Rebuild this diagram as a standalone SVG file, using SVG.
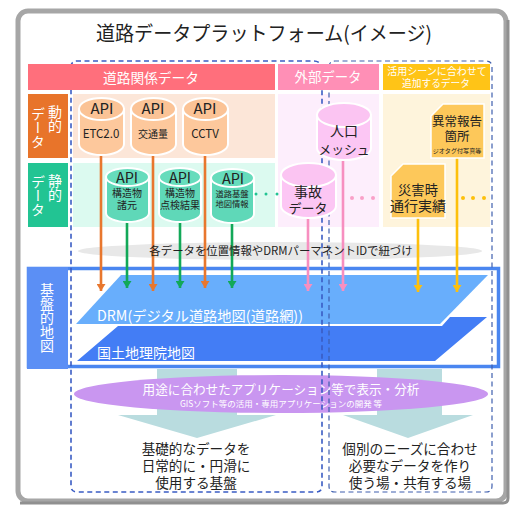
<svg xmlns="http://www.w3.org/2000/svg" width="517" height="505" viewBox="0 0 517 505">
<style>
text{font-family:"Noto Sans CJK JP","Noto Sans",sans-serif;fill:#222;text-anchor:middle;font-weight:400}
.w{fill:#fff}
.v{writing-mode:vertical-rl;text-anchor:start;fill:#fff;font-size:14px}
.o ellipse,.o path{fill:#fdc89c;stroke:#fff;stroke-width:2}
.g ellipse,.g path{fill:#5fd8b8;stroke:#fff;stroke-width:2}
.p ellipse,.p path{fill:#fcc6f4;stroke:#fff;stroke-width:2}
.o .t{fill:#fbc396}.g .t{fill:#66dcbc}.p .t{fill:#fbc4f2}
.doc{fill:#fdc85a;stroke:#fff;stroke-width:1.5}
.dash{fill:none;stroke:#3f5fae;stroke-width:1.2;stroke-dasharray:5 3.5}
.dash.l{stroke:#3a5cc4;stroke-width:1.6}
.c{fill:none;stroke-width:2.6}
.co{stroke:#e8772e;marker-end:url(#ao)}
.cg{stroke:#12a858;marker-end:url(#ag)}
.cp{stroke:#f78fc0;marker-end:url(#ap)}
.cy{stroke:#fdc00c;marker-end:url(#ay)}
</style>
<defs>
<marker id="ao" markerUnits="userSpaceOnUse" markerWidth="9" markerHeight="9" refX="7" refY="4.500" orient="auto"><path d="M0 0L7 4.500L0 9Z" fill="#e8772e"/></marker>
<marker id="ag" markerUnits="userSpaceOnUse" markerWidth="9" markerHeight="9" refX="7" refY="4.500" orient="auto"><path d="M0 0L7 4.500L0 9Z" fill="#12a858"/></marker>
<marker id="ap" markerUnits="userSpaceOnUse" markerWidth="9" markerHeight="9" refX="7" refY="4.500" orient="auto"><path d="M0 0L7 4.500L0 9Z" fill="#f78fc0"/></marker>
<marker id="ay" markerUnits="userSpaceOnUse" markerWidth="9" markerHeight="9" refX="7" refY="4.500" orient="auto"><path d="M0 0L7 4.500L0 9Z" fill="#fdc00c"/></marker>
</defs>
<rect width="517" height="505" fill="#fff"/>
<rect id="frame" x="18" y="11" width="488" height="490" rx="10" fill="#fff" stroke="#a6a6a6" stroke-width="5"/>
<path d="M508 20V498Q508 503 503 503H20" fill="none" stroke="#909090" stroke-width="3"/>
<text x="264" y="41" font-size="20" textLength="336" lengthAdjust="spacingAndGlyphs">道路データプラットフォーム(イメージ)</text>

<g id="backgrounds">
<rect x="73" y="94" width="202" height="64" fill="#fce6d8"/>
<rect x="73" y="163" width="202" height="64" fill="#dcfaf0"/>
<rect x="278" y="94" width="101" height="133" fill="#fdeefc"/>
<rect x="383" y="94" width="107" height="133" fill="#fef4dc"/>
</g>
<ellipse id="link-band" cx="280" cy="251" rx="202" ry="9" fill="#e8e8e8"/>

<g id="basemap">
<rect x="28.500" y="268.500" width="470" height="98" fill="#fff" stroke="#4a86f0" stroke-width="3.500"/>
<rect x="27" y="267" width="41" height="102" fill="#5b8ff5"/>
<text class="v" x="47" y="283">基盤的地図</text>
<path id="drm" d="M76 324L121 275H488L440 324Z" fill="#68aefc"/>
<path id="gsi" d="M77 361L118 326H442L450 317H487L435 361Z" fill="#437df5"/>
<text class="w" x="200" y="321" font-size="14" textLength="206" lengthAdjust="spacingAndGlyphs">DRM(デジタル道路地図(道路網))</text>
<text class="w" x="146" y="358" font-size="14">国土地理院地図</text>
</g>

<path id="arrow-left" d="M157 369H237V415H276L197 438L118 415H157Z" fill="#b9dcdf"/>
<path id="arrow-right" d="M377 369H442V415H473L408 438L343 415H377Z" fill="#b9dcdf"/>
<ellipse id="app-band" cx="281" cy="394" rx="207" ry="19" fill="#c996f0"/>
<text class="w" x="281" y="394" font-size="12.600">用途に合わせたアプリケーション等で表示・分析</text>
<text class="w" x="281" y="407" font-size="8.500">GISソフト等の活用・専用アプリケーションの開発 等</text>

<g id="regions">
<path class="dash l" d="M71 67Q71 61 77 61H314Q319 61 322 66V486Q322 492 316 492H77Q71 492 71 486Z"/>
<path class="dash" d="M329 67Q329 61 335 61H486Q492 61 492 67V486Q492 492 486 492H335Q329 492 329 486Z"/>
</g>

<g id="headers">
<rect x="28" y="64" width="247" height="26" fill="#ff6f7c"/>
<text class="w" x="151" y="83" font-size="13.700">道路関係データ</text>
<rect x="278" y="64" width="101" height="26" fill="#ff8fb6"/>
<text class="w" x="328" y="82" font-size="13.400">外部データ</text>
<rect x="383" y="64" width="107" height="26" fill="#ffc417"/>
<text class="w" x="437" y="75" font-size="10">活用シーンに合わせて</text>
<text class="w" x="436" y="87" font-size="9.700">追加するデータ</text>
<rect x="28" y="94" width="40" height="64" fill="#e8742a"/>
<text class="v" x="55" y="105">動的</text>
<text class="v" x="38" y="107">データ</text>
<rect x="28" y="163" width="40" height="64" fill="#22c493"/>
<text class="v" x="55" y="174">静的</text>
<text class="v" x="38" y="175">データ</text>
</g>

<g id="connectors">
<path class="c co" d="M101 156V291"/>
<path class="c co" d="M153 156V291"/>
<path class="c co" d="M205 156V288"/>
<path class="c cg" d="M127 222V288"/>
<path class="c cg" d="M180 222V288"/>
<path class="c cg" d="M232 224V288"/>
<path class="c cp" d="M308 218V291"/>
<path class="c cp" d="M343 160V291"/>
<path class="c cy" d="M418 218V292"/>
<path class="c cy" d="M457 158V292"/>
</g>
<text x="281" y="255" font-size="11.400">各データを位置情報やDRMパーマネントIDで紐づけ</text>

<g id="n-etc" class="o"><path d="M79 109V144A22.500 11 0 0 0 124 144V109Z"/><ellipse class="t" cx="101.500" cy="109" rx="22.500" ry="11"/><text x="102" y="114" font-size="15">API</text><text x="101" y="138" font-size="11.500">ETC2.0</text></g>
<g id="n-traffic" class="o"><path d="M131 109V144A22.500 11 0 0 0 176 144V109Z"/><ellipse class="t" cx="153.500" cy="109" rx="22.500" ry="11"/><text x="153" y="114" font-size="15">API</text><text x="153" y="138" font-size="10">交通量</text></g>
<g id="n-cctv" class="o"><path d="M183 109V144A22.500 11 0 0 0 228 144V109Z"/><ellipse class="t" cx="205.500" cy="109" rx="22.500" ry="11"/><text x="205" y="114" font-size="15">API</text><text x="205" y="138" font-size="11.500">CCTV</text></g>

<g id="n-spec" class="g"><path d="M106 177V213A21.500 9 0 0 0 149 213V177Z"/><ellipse class="t" cx="127.500" cy="177" rx="21.500" ry="9"/><text x="127" y="183" font-size="14.500">API</text><text x="127" y="197" font-size="10">構造物</text><text x="127" y="209" font-size="10">諸元</text></g>
<g id="n-inspect" class="g"><path d="M159 177V213A21 9 0 0 0 201 213V177Z"/><ellipse class="t" cx="180" cy="177" rx="21" ry="9"/><text x="180" y="183" font-size="14.500">API</text><text x="180" y="197" font-size="10">構造物</text><text x="180" y="209" font-size="10">点検結果</text></g>
<g id="n-base" class="g"><path d="M211 178V214A21.500 9 0 0 0 254 214V178Z"/><ellipse class="t" cx="232.500" cy="178" rx="21.500" ry="9"/><text x="233" y="184" font-size="14.500">API</text><text x="232" y="197" font-size="8.300">道路基盤</text><text x="232" y="207" font-size="8.300">地図情報</text></g>

<g id="n-mesh" class="p"><path d="M317 115V148A27 12 0 0 0 371 148V115Z"/><ellipse class="t" cx="344" cy="115" rx="27" ry="12"/><text x="344" y="136" font-size="14">人口</text><text x="344" y="154" font-size="12.800">メッシュ</text></g>
<g id="n-accident" class="p"><path d="M281 175V206A27.500 12 0 0 0 336 206V175Z"/><ellipse class="t" cx="308.500" cy="175" rx="27.500" ry="12"/><text x="308" y="197" font-size="14">事故</text><text x="308" y="213" font-size="13">データ</text></g>

<g id="n-report"><path class="doc" d="M443 104H484V158H431V116Z"/><text x="457" y="126" font-size="12.500">異常報告</text><text x="457" y="141" font-size="12.500">箇所</text><text x="457" y="153" font-size="6.100">ジオタグ付写真等</text></g>
<g id="n-disaster"><path class="doc" d="M403 164H445V218H391V176Z"/><text x="418" y="195" font-size="13.300">災害時</text><text x="418" y="211" font-size="14">通行実績</text></g>

<g id="dots">
<g fill="#22c493"><circle cx="256" cy="194" r="1.500"/><circle cx="266" cy="194" r="1.500"/><circle cx="277" cy="194" r="1.500"/></g>
<g fill="#f9a0c8"><circle cx="352" cy="198" r="2"/><circle cx="362" cy="198" r="2"/><circle cx="373" cy="198" r="2"/></g>
<g fill="#fdc00c"><circle cx="463" cy="198" r="2"/><circle cx="473" cy="198" r="2"/><circle cx="484" cy="198" r="2"/></g>
</g>

<g font-size="13.600">
<text x="196" y="454">基礎的なデータを</text>
<text x="196" y="471">日常的に・円滑に</text>
<text x="196" y="488">使用する基盤</text>
<text x="410" y="454">個別のニーズに合わせ</text>
<text x="410" y="471">必要なデータを作り</text>
<text x="410" y="488">使う場・共有する場</text>
</g>
</svg>
